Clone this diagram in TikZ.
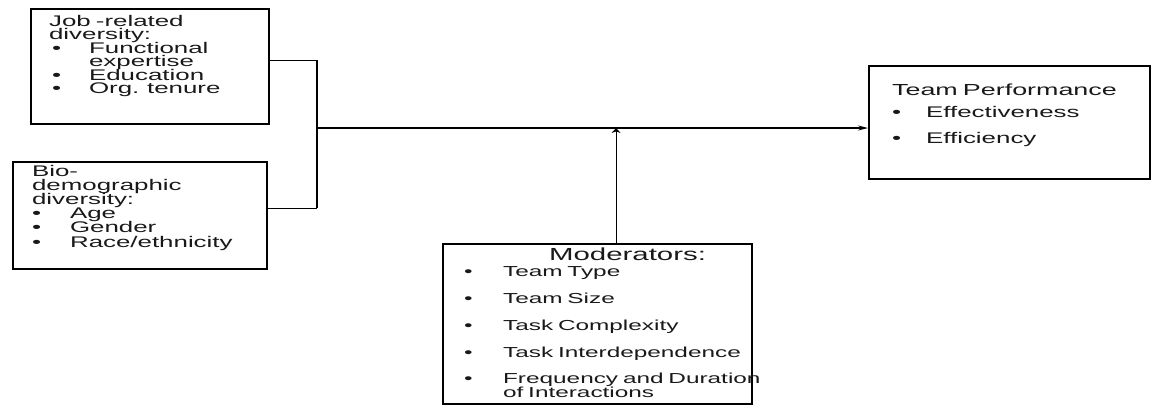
\documentclass[tikz,border=0pt]{standalone}
\usepackage{fontspec}
\setmainfont{Liberation Sans}[FakeStretch=1.68]
\usetikzlibrary{arrows.meta}

% bullet line: bullet, then the item text at a fixed indent
\newcommand{\bulin}{0pt}
\newcommand{\bul}[2][38pt]{\mbox{\makebox[#1][l]{\hspace*{\bulin}\textbullet}#2}}

\begin{document}
\begin{tikzpicture}[x=1pt, y=-1pt,
    box/.style={draw, line width=2.2pt, anchor=north west, align=left, inner ysep=0pt, text=black!90,
      font={\fontsize{15.4}{13.5}\selectfont\lineskiplimit=-20pt}},
    wire/.style={line width=1.2pt},
    rtip/.style={-{Stealth[length=10pt, width=5pt]}},
    utip/.style={-{Stealth[length=5pt, width=9pt]}}]
    \useasboundingbox (0,0) rectangle (1151,405);

    % diversity boxes
    \node[box, inner xsep=18pt, text width=202pt, text height=17pt, text depth=98pt] (job) at (30,8)
      {\renewcommand{\bulin}{3pt}Job -related\\ diversity:\\ \bul[40pt]{Functional}\\
       \hspace*{40pt}expertise\\ \bul[40pt]{Education}\\ \bul[40pt]{Org. tenure}};
    \node[box, inner xsep=19pt, text width=216pt, text height=14pt, text depth=93pt,
      font={\fontsize{15.4}{14.2}\selectfont\lineskiplimit=-20pt}] (bio) at (12,161)
      {Bio-\\ demographic\\ diversity:\\ \bul{Age}\\ \bul{Gender}\\ \bul{Race/ethnicity}};

    % outcome
    \node[box, inner xsep=23pt, text width=235pt, text height=29pt, text depth=84pt] (perf) at (868,65)
      {\mbox{\fontsize{16}{14}\selectfont Team Performance}\\[9pt] \bul[34pt]{Effectiveness}\\[12.5pt] \bul[34pt]{Efficiency}};

    % moderators
    \node[box, inner xsep=21pt, text width=267pt, text height=16.5pt, text depth=143.5pt,
      font={\fontsize{14.5}{13.5}\selectfont\lineskiplimit=-20pt}] (mod) at (442,243)
      {\hspace*{85pt}{\fontsize{17.5}{13.5}\selectfont Moderators:}\\[2.2pt]
       \bul[39pt]{Team Type}\\[13.5pt] \bul[39pt]{Team Size}\\[13.5pt] \bul[39pt]{Task Complexity}\\[13.5pt]
       \bul[39pt]{Task Interdependence}\\[13pt] \bul[39pt]{Frequency and Duration}\\ \hspace*{39pt}of Interactions};

    % connectors
    \coordinate (spine) at (317,128);
    \coordinate (modtop) at ([xshift=18.5pt]mod.north);
    \path ([yshift=6.5pt]job.east) coordinate (jout) ([yshift=7.5pt]bio.east) coordinate (bout);
    \draw[wire] (jout) -- (jout -| spine);
    \draw[wire] (bout) -- (bout -| spine);
    \draw[wire, line width=2.4pt] (jout -| spine) -- (bout -| spine);
    \draw[wire, rtip] (spine) -- (spine -| perf.west);
    \draw[wire, utip] (modtop) -- (modtop |- spine);
\end{tikzpicture}
\end{document}
